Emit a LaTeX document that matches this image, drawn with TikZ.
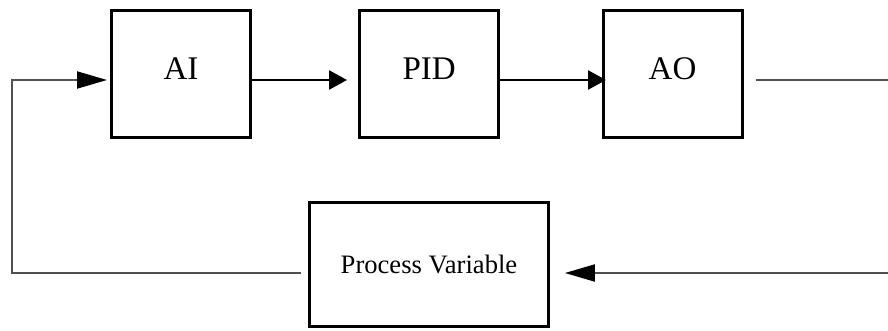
\documentclass[tikz,border=0pt]{standalone}
\usepackage{fontspec}
\setmainfont{Liberation Serif}
\usetikzlibrary{arrows.meta,calc}
\definecolor{lgray}{RGB}{80,80,80}
\tikzset{
  blk/.style={draw=black, line width=3pt, minimum width=139pt, minimum height=126.5pt,
    inner sep=0pt, outer sep=0pt, font=\fontsize{33}{39}\selectfont, text depth=12pt},
  pvbox/.style={draw=black, line width=3pt, minimum width=239pt, minimum height=124.6pt,
    inner sep=0pt, outer sep=0pt, font=\fontsize{26.6}{31}\selectfont},
  fwd/.style={draw=black, line width=2.6pt, -{Triangle[length=18pt,width=19pt]}},
  fb/.style={draw=lgray, line width=2pt},
  fbarrow/.style={fb, -{Triangle[length=30pt,width=17pt,color=black]}},
}
\begin{document}
\begin{tikzpicture}[x=1pt,y=-1pt]
\useasboundingbox (0,0) rectangle (888,331);
\node[blk] (AI) at (181,74.25) {AI};
\node[blk] (PID) at (429.2,74.25) {PID};
\node[blk] (AO) at (672.5,74.25) {AO};
\node[pvbox] (PV) at (429,264.3) {Process Variable};
\coordinate (outR) at (888,80);
\coordinate (inR) at (888,273);
\coordinate (cBL) at (12,273);
\coordinate (cTL) at (12,80);
\draw[fwd, shorten >=12.7pt] ($(AI.east)+(0,5.75)$) -- ($(PID.west)+(0,5.75)$);
\draw[fwd, shorten >=-3pt] ($(PID.east)+(0,5.75)$) -- ($(AO.west)+(0,5.75)$);
\draw[fb, shorten <=13.7pt] ($(AO.east)+(0,5.75)$) -- (outR);
\draw[fbarrow, shorten >=16.4pt] (inR) -- ($(PV.east)+(0,8.7)$);
\draw[fbarrow, shorten <=9pt, shorten >=4.5pt] ($(PV.west)+(0,8.7)$) -- (cBL) -- (cTL) -- ($(AI.west)+(0,5.75)$);
\end{tikzpicture}
\end{document}
